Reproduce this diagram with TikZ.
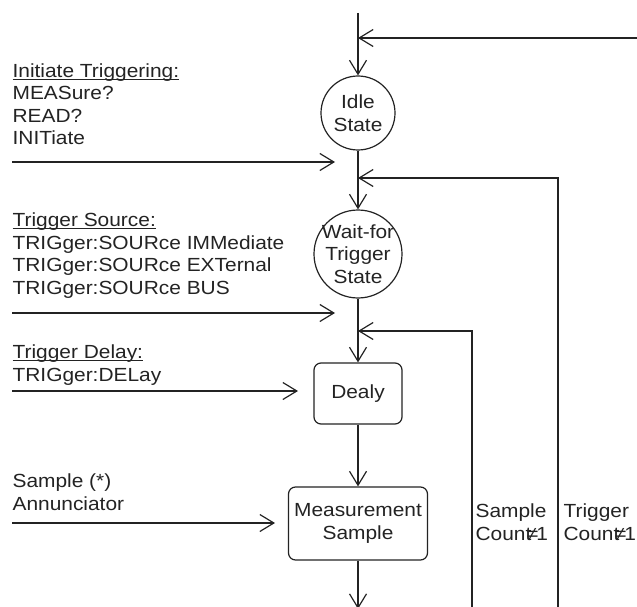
\documentclass[tikz,border=0pt]{standalone}
\usepackage{fontspec}
\setmainfont{Liberation Sans}[FakeStretch=1.1]
\usetikzlibrary{arrows.meta}
\definecolor{ink}{RGB}{35,35,35}
% heading with a rule just under the baseline
\newsavebox\hdrbox
\newcommand\hdr[1]{\sbox\hdrbox{#1}\rlap{\rule[-2.6pt]{\wd\hdrbox}{1pt}}\usebox\hdrbox}
% "Count≠1" set tightly
\newcommand\cntne{Count\kern-4.5pt≠\kern-2pt1}
\begin{document}
\begin{tikzpicture}[x=1pt,y=-1pt,line width=1.2pt,color=ink,
  lab/.style={font=\fontsize{19}{22.5}\selectfont,inner sep=0pt,text=ink},
  txt/.style={lab,anchor=base west,align=left},
  state/.style={lab,circle,draw,inner sep=-12pt,align=center},
  stepbox/.style={lab,draw,rounded corners=7pt,align=center},
  arr/.style={-{Straight Barb[length=14pt,width=17pt]}}]
\useasboundingbox (0,0) rectangle (637,607);

% main flow states
\node[state,minimum size=74pt] (idle) at (358,113) {Idle\\State};
\node[state,minimum size=88pt] (wait) at (358,254) {Wait-for\\Trigger\\State};
\node[stepbox,minimum width=88pt,minimum height=61pt] (delay) at (358,393.5) {Dealy};
\node[stepbox,minimum width=139pt,minimum height=73pt] (meas) at (358,523.5) {Measurement\\Sample};

% points on the main line
\coordinate (top) at (358,13);
\coordinate (j1) at (358,38);
\coordinate (j2) at (358,178);
\coordinate (j3) at (358,331);
\coordinate (bot) at (358,609);

\draw[arr] (top) -- (idle);
\draw[arr] (idle) -- (wait);
\draw[arr] (wait) -- (delay);
\draw[arr] (delay) -- (meas);
\draw[arr] (meas) -- (bot);

% loop-back paths
\coordinate (back) at (637,38);
\coordinate (tc) at (558,607);
\coordinate (sc) at (472,607);
\draw[arr] (back) -- (j1);
\draw[arr] (tc) |- (j2);
\draw[arr] (sc) |- (j3);

% multi-line texts are placed by the baseline of their last line
\node[txt] (sclab) at (475,540) {Sample\\\cntne};
\node[txt] (tclab) at (563,540) {Trigger\\\cntne};

% command inputs
\node[txt] (init) at (12,145) {\hdr{Initiate Triggering:}\\MEASure?\\READ?\\INITiate};
\coordinate (a1) at (12,162);
\coordinate (b1) at (335,162);
\draw[arr] (a1) -- (b1);

\node[txt] (src) at (12,294) {\hdr{Trigger Source:}\\TRIGger:SOURce IMMediate\\TRIGger:SOURce EXTernal\\TRIGger:SOURce BUS};
\coordinate (a2) at (12,313);
\coordinate (b2) at (335,313);
\draw[arr] (a2) -- (b2);

\node[txt] (dly) at (12,381) {\hdr{Trigger Delay:}\\TRIGger:DELay};
\coordinate (a3) at (12,391);
\coordinate (b3) at (298,391);
\draw[arr] (a3) -- (b3);

\node[txt] (ann) at (12,510) {Sample (*)\\Annunciator};
\coordinate (a4) at (12,523);
\coordinate (b4) at (275,523);
\draw[arr] (a4) -- (b4);
\end{tikzpicture}
\end{document}
